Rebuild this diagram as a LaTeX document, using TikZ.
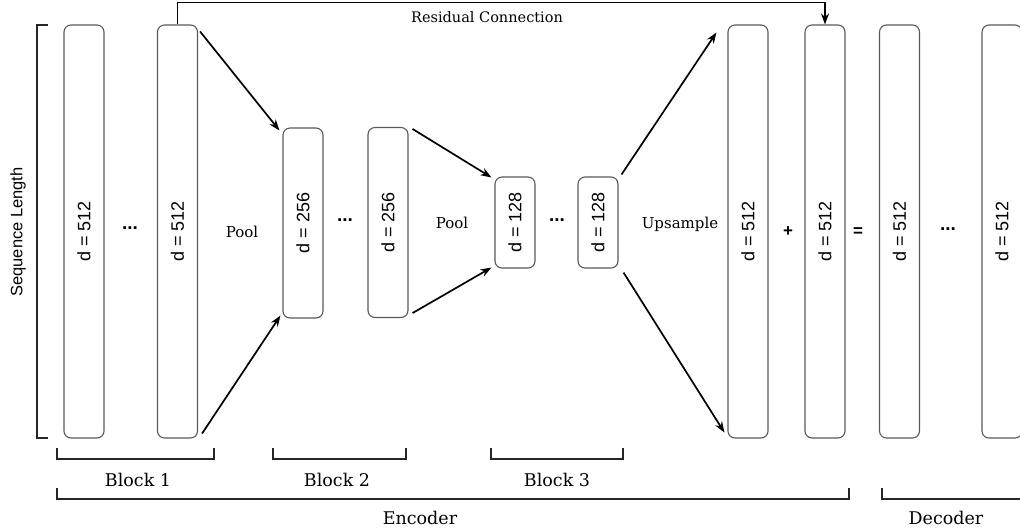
\documentclass[tikz,border=0pt]{standalone}
\usepackage{fontspec}
\setmainfont{DejaVu Serif}
\newfontfamily\sansf{Liberation Sans}
\usetikzlibrary{arrows.meta}
\begin{document}
\begin{tikzpicture}[x=1pt,y=-1pt,
  blk/.style={draw=black!65, line width=1.1pt, rounded corners=7pt, inner sep=0pt, minimum width=40pt, font=\sansf\fontsize{18}{18}\selectfont},
  tall/.style={blk, minimum height=413pt},
  mid/.style={blk, minimum height=190pt},
  short/.style={blk, minimum height=91pt},
  conn/.style={line width=1.7pt, -{Stealth[length=11pt,width=8pt]}},
  brk/.style={line width=1.6pt, draw=black!85},
  lbl/.style={font=\fontsize{15}{17}\selectfont},
  blbl/.style={font=\fontsize{17.5}{19}\selectfont},
  stxt/.style={font=\sansf\fontsize{19}{19}\selectfont},
  dots/.style={font=\sansf\bfseries\fontsize{19}{19}\selectfont}]
\useasboundingbox (0,0) rectangle (1020,531);

% boxes
\node[tall]  (b1)  at (84,231.5)   {\rotatebox{90}{d = 512}};
\node[tall]  (b2)  at (177.5,231.5){\rotatebox{90}{d = 512}};
\node[mid]   (b3)  at (303,223)    {\rotatebox{90}{d = 256}};
\node[mid]   (b4)  at (388,222.5)  {\rotatebox{90}{d = 256}};
\node[short] (b5)  at (515,222.5)  {\rotatebox{90}{d = 128}};
\node[short] (b6)  at (598,222.5)  {\rotatebox{90}{d = 128}};
\node[tall]  (b7)  at (748,231.5)  {\rotatebox{90}{d = 512}};
\node[tall]  (b8)  at (825,231.5)  {\rotatebox{90}{d = 512}};
\node[tall]  (b9)  at (899.5,231.5){\rotatebox{90}{d = 512}};
\node[tall]  (b10) at (1002,231.5) {\rotatebox{90}{d = 512}};

% ellipses and operators
\node[dots] (e1) at (130,228) {...};
\node[dots] (e2) at (345,220) {...};
\node[dots] (e3) at (557,220) {...};
\node[dots] (e4) at (948,229) {...};
\node[stxt, font=\sansf\bfseries\fontsize{17}{17}\selectfont] (plus) at (788,232) {+};
\node[stxt, font=\sansf\bfseries\fontsize{17}{17}\selectfont] (eq) at (858,232) {=};

% labels
\node[lbl] (pool1) at (242,232) {Pool};
\node[lbl] (pool2) at (452,223) {Pool};
\node[lbl] (ups) at (680,224) {Upsample};
\node[font=\fontsize{14.5}{16}\selectfont] (res) at (487,17) {Residual Connection};
\node[font=\sansf\fontsize{16.5}{16.5}\selectfont] (seq) at (18,232) {\rotatebox{90}{Sequence Length}};

% connectors
\draw[conn] ([shift={(2,7)}]b2.north east) -- ([shift={(-3,3)}]b3.north west);
\draw[conn] ([shift={(4,-5)}]b2.south east) -- ([shift={(-2,-3)}]b3.south west);
\draw[conn] ([shift={(4,2)}]b4.north east) -- ([shift={(-3,1)}]b5.north west);
\draw[conn] ([shift={(4,-5)}]b4.south east) -- ([shift={(-3,-1)}]b5.south west);
\draw[conn] ([shift={(3,-2)}]b6.north east) -- ([shift={(-11,8)}]b7.north west);
\draw[conn] ([shift={(5,4)}]b6.south east) -- ([shift={(-3,-6)}]b7.south west);
\draw[conn] (b2.north) -- ++(0,-22) -| (b8.north);

% brackets
\draw[brk] (48,25) -- (37,25) -- (37,438) -- (48,438);
\draw[brk] (57,448) -- (57,459) -- (214,459) -- (214,448);
\draw[brk] (273,448) -- (273,459) -- (406,459) -- (406,448);
\draw[brk] (491,448) -- (491,459) -- (623,459) -- (623,448);
\draw[brk] (57,488) -- (57,499) -- (849,499) -- (849,488);
\draw[brk] (882,488) -- (882,499) -- (1030,499);

\node[blbl] (bl1) at (138,480) {Block 1};
\node[blbl] (bl2) at (337,480) {Block 2};
\node[blbl] (bl3) at (557,480) {Block 3};
\node[blbl] (enc) at (420,518) {Encoder};
\node[blbl] (dec) at (946,518) {Decoder};
\end{tikzpicture}
\end{document}
